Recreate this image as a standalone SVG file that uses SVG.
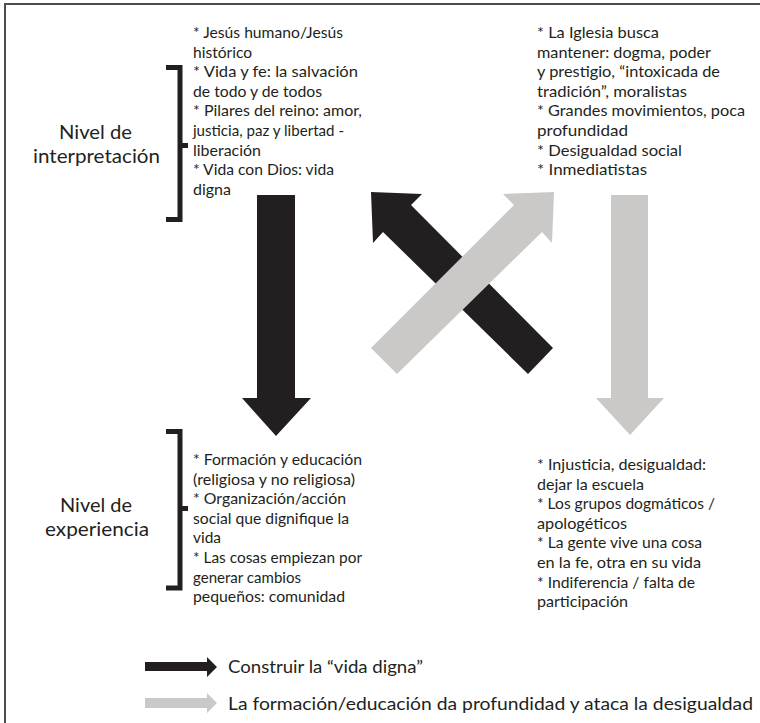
<svg xmlns="http://www.w3.org/2000/svg" width="760" height="723" viewBox="0 0 760 723">
  <style>
    text { font-family: Lato, "Open Sans", "Liberation Sans", sans-serif; fill: #231f20; }
    .txt { font-size: 15px; }
    .lvl { font-size: 20px; }
    .leg { font-size: 17px; }
    .dark { fill: #231f20; }
    .light { fill: #cac9c7; }
    .bracket { fill: none; stroke: #231f20; stroke-width: 5; stroke-linejoin: miter; }
  </style>

  <rect x="5" y="4" width="770" height="740" fill="#ffffff" stroke="#4d4d4d" stroke-width="2"/>

  <!-- Level labels with brackets -->
  <g id="nivel-interpretacion">
    <text class="lvl" x="59" y="139" textLength="73" lengthAdjust="spacingAndGlyphs">Nivel de</text>
    <text class="lvl" x="33" y="163" textLength="127" lengthAdjust="spacingAndGlyphs">interpretación</text>
    <path class="bracket" d="M166,67.5 H180 V219.5 H166 M180,145.5 H188"/>
  </g>
  <g id="nivel-experiencia">
    <text class="lvl" x="60" y="512" textLength="72" lengthAdjust="spacingAndGlyphs">Nivel de</text>
    <text class="lvl" x="45" y="536" textLength="104" lengthAdjust="spacingAndGlyphs">experiencia</text>
    <path class="bracket" d="M166,431.5 H180 V588 H166 M180,508.5 H188"/>
  </g>

  <!-- Quadrant notes -->
  <g id="interpretacion-positiva" class="txt">
    <text x="193" y="38" textLength="150" lengthAdjust="spacingAndGlyphs">* Jesús humano/Jesús</text>
    <text x="193" y="57.6" textLength="59" lengthAdjust="spacingAndGlyphs">histórico</text>
    <text x="193" y="77.2" textLength="165" lengthAdjust="spacingAndGlyphs">* Vida y fe: la salvación</text>
    <text x="193" y="96.8" textLength="129" lengthAdjust="spacingAndGlyphs">de todo y de todos</text>
    <text x="193" y="116.4" textLength="169" lengthAdjust="spacingAndGlyphs">* Pilares del reino: amor,</text>
    <text x="193" y="136" textLength="151" lengthAdjust="spacingAndGlyphs">justicia, paz y libertad -</text>
    <text x="193" y="155.6" textLength="68" lengthAdjust="spacingAndGlyphs">liberación</text>
    <text x="193" y="175.2" textLength="141" lengthAdjust="spacingAndGlyphs">* Vida con Dios: vida</text>
    <text x="193" y="194.8" textLength="38" lengthAdjust="spacingAndGlyphs">digna</text>
  </g>
  <g id="interpretacion-negativa" class="txt">
    <text x="537" y="38" textLength="122" lengthAdjust="spacingAndGlyphs">* La Iglesia busca</text>
    <text x="537" y="57.6" textLength="174" lengthAdjust="spacingAndGlyphs">mantener: dogma, poder</text>
    <text x="537" y="77.2" textLength="183" lengthAdjust="spacingAndGlyphs">y prestigio, “intoxicada de</text>
    <text x="537" y="96.8" textLength="150" lengthAdjust="spacingAndGlyphs">tradición”, moralistas</text>
    <text x="537" y="116.4" textLength="208" lengthAdjust="spacingAndGlyphs">* Grandes movimientos, poca</text>
    <text x="537" y="136" textLength="91" lengthAdjust="spacingAndGlyphs">profundidad</text>
    <text x="537" y="155.6" textLength="145" lengthAdjust="spacingAndGlyphs">* Desigualdad social</text>
    <text x="537" y="175.2" textLength="110" lengthAdjust="spacingAndGlyphs">* Inmediatistas</text>
  </g>
  <g id="experiencia-positiva" class="txt">
    <text x="193" y="465" textLength="169" lengthAdjust="spacingAndGlyphs">* Formación y educación</text>
    <text x="193" y="484.6" textLength="162" lengthAdjust="spacingAndGlyphs">(religiosa y no religiosa)</text>
    <text x="193" y="504.2" textLength="153" lengthAdjust="spacingAndGlyphs">* Organización/acción</text>
    <text x="193" y="523.8" textLength="156" lengthAdjust="spacingAndGlyphs">social que dignifique la</text>
    <text x="193" y="543.4" textLength="28" lengthAdjust="spacingAndGlyphs">vida</text>
    <text x="193" y="563" textLength="169" lengthAdjust="spacingAndGlyphs">* Las cosas empiezan por</text>
    <text x="193" y="582.6" textLength="108" lengthAdjust="spacingAndGlyphs">generar cambios</text>
    <text x="193" y="602.2" textLength="152" lengthAdjust="spacingAndGlyphs">pequeños: comunidad</text>
  </g>
  <g id="experiencia-negativa" class="txt">
    <text x="537" y="470" textLength="169" lengthAdjust="spacingAndGlyphs">* Injusticia, desigualdad:</text>
    <text x="537" y="489.6" textLength="107" lengthAdjust="spacingAndGlyphs">dejar la escuela</text>
    <text x="537" y="509.2" textLength="178" lengthAdjust="spacingAndGlyphs">* Los grupos dogmáticos /</text>
    <text x="537" y="528.8" textLength="90" lengthAdjust="spacingAndGlyphs">apologéticos</text>
    <text x="537" y="548.4" textLength="165" lengthAdjust="spacingAndGlyphs">* La gente vive una cosa</text>
    <text x="537" y="568" textLength="164" lengthAdjust="spacingAndGlyphs">en la fe, otra en su vida</text>
    <text x="537" y="587.6" textLength="158" lengthAdjust="spacingAndGlyphs">* Indiferencia / falta de</text>
    <text x="537" y="607.2" textLength="91" lengthAdjust="spacingAndGlyphs">participación</text>
  </g>

  <!-- Block arrows between the quadrants -->
  <g id="connectors">
    <polygon class="dark" points="257,195 295,195 295,398 311,398 276,436 242,398 257,398"/>
    <polygon class="light" points="611,195 648,195 648,398 664,398 630,435 596,398 611,398"/>
    <polygon class="dark" points="371,192 422,194 411,205 553,348 528,374 383,232 373,243"/>
    <polygon class="light" points="554,192 503,194 514,205 371,348 397,374 542,232 552,243"/>
  </g>

  <!-- Legend -->
  <g id="legend">
    <polygon class="dark" points="145,662 207,662 207,657 217,667 207,677 207,671 145,671"/>
    <text class="leg" x="228" y="673" textLength="195" lengthAdjust="spacingAndGlyphs">Construir la “vida digna”</text>
    <polygon class="light" points="145,698 207,698 207,693 217,703 207,713 207,708 145,708"/>
    <text class="leg" x="228" y="710" textLength="525" lengthAdjust="spacingAndGlyphs">La formación/educación da profundidad y ataca la desigualdad</text>
  </g>
</svg>
